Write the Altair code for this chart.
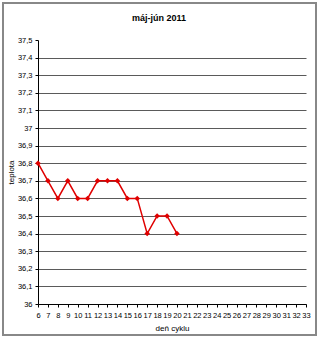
import altair as alt
import pandas as pd

days = [6, 7, 8, 9, 10, 11, 12, 13, 14, 15, 16, 17, 18, 19, 20]
temps = [36.8, 36.7, 36.6, 36.7, 36.6, 36.6, 36.7, 36.7, 36.7, 36.6, 36.6, 36.4, 36.5, 36.5, 36.4]
x_ticks = list(range(6, 34))
y_ticks = [round(36 + 0.1 * i, 1) for i in range(16)]
title_text = "máj-jún 2011"

df = pd.DataFrame({"day": days, "temp": temps})
one = pd.DataFrame({"t": [title_text]})

W, H = 268, 264

x_enc = alt.X("day:Q", scale=alt.Scale(domain=[6, 33], nice=False, zero=False),
              axis=alt.Axis(values=x_ticks, tickCount=60, format="d", title="deň cyklu", grid=False,
                            labelOverlap=False, labelFontSize=7.5, titleFontSize=8, titleFontWeight="normal",
                            tickSize=3, domainColor="#000", tickColor="#000",
                            labelColor="#000", titleColor="#000", labelPadding=4, titlePadding=6,
                            labelFlush=False, labelBound=False))
y_enc = alt.Y("temp:Q", scale=alt.Scale(domain=[36, 37.5], nice=False, zero=False),
              axis=alt.Axis(values=y_ticks, tickCount=60, title="teplota", grid=True, gridColor="#5a5a5a",
                            gridWidth=1, labelOverlap=False, labelBound=False,
                            gridOpacity={"condition": {"test": "datum.value > 37.45", "value": 0}, "value": 1},
                            labelExpr="replace(format(datum.value, '.1~f'), '.', ',')",
                            labelFontSize=7.5, titleFontSize=8, titleFontWeight="normal",
                            tickSize=3, domainColor="#000", tickColor="#000",
                            labelColor="#000", titleColor="#000", labelPadding=3, titlePadding=2))

line = alt.Chart(df).mark_line(color="#E00000", strokeWidth=1.5).encode(x=x_enc, y=y_enc)
pts = alt.Chart(df).mark_point(shape="diamond", filled=True, color="#E00000", size=30, opacity=1).encode(
    x="day:Q", y="temp:Q")

border = alt.Chart(one).mark_rect(fill=None, stroke="#888", strokeWidth=2, clip=False).encode(
    x=alt.value(-35), x2=alt.value(278), y=alt.value(-37), y2=alt.value(295))

title = alt.Chart(one).mark_text(fontSize=9, fontWeight="bold", color="#000",
                                 font="Liberation Sans", clip=False).encode(
    text="t:N", x=alt.value(121), y=alt.value(-22))

chart = alt.layer(border, line, pts, title).properties(
    width=W, height=H,
    autosize=alt.AutoSizeParams(type="none"),
    padding={"left": 38, "top": 40, "right": 14, "bottom": 35},
).configure(font="Liberation Sans", background="white").configure_view(stroke=None)

chart.save("out.html", embed_options={"renderer": "svg", "actions": False})
